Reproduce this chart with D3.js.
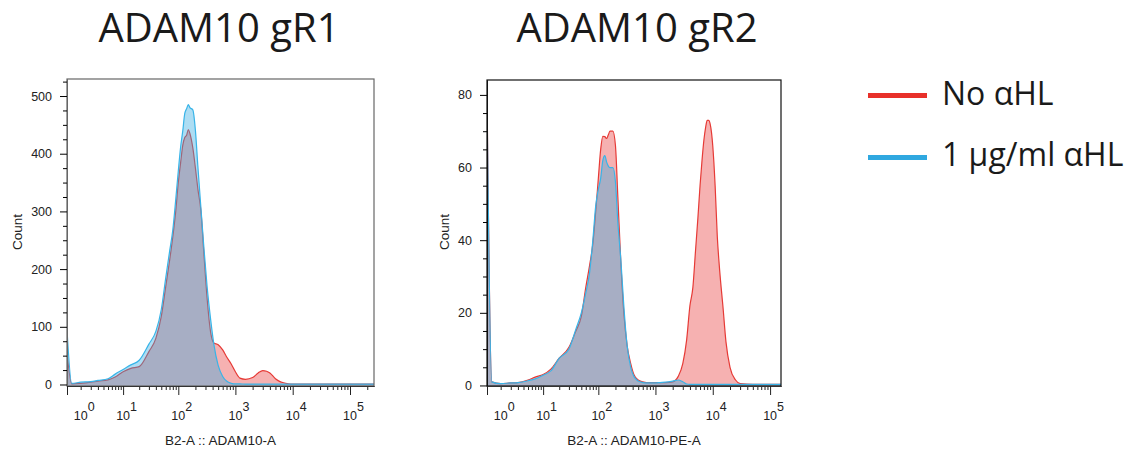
<!DOCTYPE html>
<html>
<head>
<meta charset="utf-8">
<script src="https://cdn.jsdelivr.net/npm/d3@7"></script>
<style>
  body { margin: 0; background: #fff; }
  svg { display: block; }
</style>
</head>
<body>
<div id="chart"></div>
<script>
// ---- data ----
const titles = ["ADAM10 gR1", "ADAM10 gR2"];
const axisLabels = ["B2-A :: ADAM10-A", "B2-A :: ADAM10-PE-A"];
const legendLabels = ["No αHL", "1 μg/ml αHL"];
const decades = [0, 1, 2, 3, 4, 5];

const yTicksGR1 = [0, 100, 200, 300, 400, 500];
const yTicksGR2 = [0, 20, 40, 60, 80];

// channel values (bin centres) for each histogram
const binsGR1 = [0.155, 0.4, 1, 2, 3, 5, 7, 10, 14, 20, 30, 40, 50, 60, 70, 80, 90, 100, 110, 120, 130, 140, 150, 160,
  180, 200, 220, 250, 280, 320, 370, 420, 500, 600, 700, 850, 1000, 1200, 1500, 2000, 2500, 3000, 3500, 4000,
  5000, 6000, 7000, 8500, 10000, 20000, 50000, 100000, 262144];
const gr1NoAHL = [55, 1, 2, 4, 6, 8, 13, 22, 28, 31, 57, 80, 118, 170, 214, 256, 300, 350, 385, 415, 428, 432, 442, 435,
  410, 375, 340, 300, 230, 150, 90, 72, 69, 60, 48, 35, 22, 11, 9, 12, 20, 24, 23, 20,
  10, 5, 3, 1, 0.5, 0.5, 0.5, 0.5, 0.5];
const gr1OneAHL = [95, 2, 4, 5, 7, 10, 18, 26, 34, 42, 70, 92, 130, 185, 230, 268, 320, 370, 412, 440, 470, 478, 485, 480,
  476, 440, 380, 305, 240, 170, 112, 70, 33, 14, 6, 2, 1, 1, 0.8, 0.8, 0.8, 0.8, 0.8, 0.8,
  0.8, 0.8, 0.8, 0.8, 0.8, 0.8, 0.8, 0.8, 0.8];

const binsGR2 = [0.155, 0.4, 1, 2, 3, 5, 7, 10, 14, 20, 30, 40, 50, 60, 70, 80, 90, 100, 110, 120, 130, 140, 150, 160,
  180, 200, 220, 250, 280, 320, 370, 420, 500, 600, 700, 850, 1000, 1200, 1500, 2000, 2500, 3000, 3500, 4000,
  4500, 5000, 5500, 6000, 6500, 7000, 7500, 8000, 8500, 9000, 10000, 11000, 12000, 13000, 14000, 15000, 17000,
  20000, 25000, 30000, 50000, 100000, 155000];
const gr2NoAHL = [81, 1, 0.5, 0.7, 0.8, 1.5, 2.3, 3, 4.5, 7.5, 10.5, 15, 19, 27, 33, 39, 48, 57, 65, 68.6, 68.5, 68, 69, 70,
  70, 66, 52, 33, 20, 11, 6, 3, 1.5, 1, 0.8, 0.8, 0.8, 0.8, 0.8, 1, 2.5, 6, 12.5, 22,
  27, 37, 46, 55, 62, 67.5, 71, 73, 73, 72, 66, 55, 41, 33, 27, 22, 12,
  5, 1.5, 0.5, 0.3, 0.3, 0.3];
const gr2OneAHL = [80, 1, 0.5, 0.7, 0.8, 1.3, 1.8, 2.8, 4, 7.5, 10, 15.5, 20, 25.5, 31, 40, 49.5, 54, 57, 62, 63.3, 61.5, 60.4, 60,
  60, 56, 45, 34, 22, 11, 5, 2.5, 1.2, 0.8, 0.7, 0.7, 0.7, 0.8, 0.9, 1.2, 1.5, 1, 0.4, 0.3,
  0.3, 0.3, 0.3, 0.3, 0.3, 0.3, 0.3, 0.3, 0.3, 0.3, 0.3, 0.3, 0.3, 0.3, 0.3, 0.3, 0.3,
  0.3, 0.3, 0.3, 0.3, 0.3, 0.3];

// ---- layout ----
const W = 1136, H = 454;
const redStroke = "#e63a36", redFill = "rgba(232,60,60,0.4)";
const blueStroke = "#38b4e8", blueFill = "rgba(50,170,225,0.4)";

const panels = [
  { title: titles[0], xlabel: axisLabels[0], left: 67, right: 374, top: 79, bottom: 386,
    xDomain: [0.155, 262144], yDomain: [-2.6, 529.5], yTicks: yTicksGR1, yMinorStep: 25,
    bins: binsGR1, red: gr1NoAHL, blue: gr1OneAHL, frame: "#666", titleX: 219, countX: 17 },
  { title: titles[1], xlabel: axisLabels[1], left: 487, right: 781, top: 80, bottom: 386,
    xDomain: [0.155, 155000], yDomain: [-0.15, 84.1], yTicks: yTicksGR2, yMinorStep: 5,
    bins: binsGR2, red: gr2NoAHL, blue: gr2OneAHL, frame: "#111", titleX: 637, countX: 444 }
];

const svg = d3.select("#chart").append("svg").attr("width", W).attr("height", H);

panels.forEach(function (p) {
  var x = d3.scaleSymlog().constant(1).domain(p.xDomain).range([p.left, p.right]);
  var y = d3.scaleLinear().domain(p.yDomain).range([p.bottom, p.top]);
  var g = svg.append("g");

  // title
  svg.append("text").attr("x", p.titleX).attr("y", 42).attr("text-anchor", "middle")
    .style("font-family", "Open Sans").style("font-size", "40px").attr("fill", "#1a1a1a")
    .text(p.title);

  var area = d3.area().x(d => x(d[0])).y0(y(p.yDomain[0])).y1(d => y(d[1])).curve(d3.curveMonotoneX);
  var line = d3.line().x(d => x(d[0])).y(d => y(d[1])).curve(d3.curveMonotoneX);

  var clipId = "clip" + p.left;
  svg.append("clipPath").attr("id", clipId).append("rect")
    .attr("x", p.left).attr("y", p.top).attr("width", p.right - p.left).attr("height", p.bottom - p.top);
  var plot = g.append("g").attr("clip-path", "url(#" + clipId + ")");

  [[p.red, redFill, redStroke], [p.blue, blueFill, blueStroke]].forEach(function (s) {
    var pts = p.bins.map((b, i) => [b, s[0][i]]);
    plot.append("path").datum(pts).attr("d", area).attr("fill", s[1]);
    plot.append("path").datum(pts).attr("d", line).attr("fill", "none")
      .attr("stroke", s[2]).attr("stroke-width", 1.2);
  });

  // frame
  g.append("rect").attr("x", p.left).attr("y", p.top)
    .attr("width", p.right - p.left).attr("height", p.bottom - p.top)
    .attr("fill", "none").attr("stroke", p.frame).attr("stroke-width", 1.2);

  // y axis
  var yMinor = d3.range(0, p.yDomain[1], p.yMinorStep).filter(v => p.yTicks.indexOf(v) < 0);
  g.append("g").attr("transform", "translate(" + p.left + ",0)")
    .call(d3.axisLeft(y).tickValues(yMinor).tickSize(4).tickSizeOuter(0).tickFormat(""));
  var ya = g.append("g").attr("transform", "translate(" + p.left + ",0)")
    .call(d3.axisLeft(y).tickValues(p.yTicks).tickSize(7).tickSizeOuter(0).tickPadding(8));
  ya.selectAll("text").style("font-family", "Liberation Sans").style("font-size", "12.5px").attr("fill", "#222");
  g.selectAll(".domain").attr("stroke", p.frame);

  svg.append("text").attr("transform", "translate(" + (p.countX + 5) + "," + 232 + ") rotate(-90)")
    .attr("text-anchor", "middle").style("font-family", "Liberation Sans").style("font-size", "13.5px")
    .attr("fill", "#222").text("Count");

  // x axis (log decades with minor ticks)
  var xMinor = [];
  decades.forEach(function (k) {
    for (var m = 1; m < 10; m++) {
      var v = m * Math.pow(10, k);
      if ((m > 1 || k == 0) && v < p.xDomain[1]) xMinor.push(v);
    }
  });
  var xMajor = decades.filter(k => k > 0).map(k => Math.pow(10, k));
  var xa = g.append("g").attr("transform", "translate(0," + p.bottom + ")");
  xa.call(d3.axisBottom(x).tickValues(xMinor).tickSize(4).tickSizeOuter(0).tickFormat(""));
  xa.append("g").call(d3.axisBottom(x).tickValues(xMajor.concat([p.xDomain[0]])).tickSize(9).tickSizeOuter(0).tickFormat(""));
  xa.selectAll(".domain").attr("stroke", "#333");
  xa.selectAll("line").attr("stroke", "#222");

  decades.forEach(function (k) {
    var px = x(Math.pow(10, k));
    svg.append("text").attr("x", px).attr("y", 420).attr("text-anchor", "middle")
      .style("font-family", "Liberation Sans").style("font-size", "12.5px").attr("fill", "#222").text("10");
    svg.append("text").attr("x", px + 7).attr("y", 410.5)
      .style("font-family", "Liberation Sans").style("font-size", "12.5px").attr("fill", "#222").text(k);
  });

  svg.append("text").attr("x", (p.left + p.right) / 2).attr("y", 445)
    .attr("text-anchor", "middle").style("font-family", "Liberation Sans").style("font-size", "13.5px")
    .attr("fill", "#222").text(p.xlabel);
});

// legend
const legend = svg.append("g");
[[legendLabels[0], "#e8302a", 95.5, 105], [legendLabels[1], "#2fa8e0", 157.5, 166]].forEach(function (l) {
  legend.append("line").attr("x1", 868).attr("x2", 927).attr("y1", l[2]).attr("y2", l[2])
    .attr("stroke", l[1]).attr("stroke-width", 5);
  legend.append("text").attr("x", 942).attr("y", l[3])
    .style("font-family", "Open Sans").style("font-size", "32px").attr("fill", "#1a1a1a").text(l[0]);
});
</script>
</body>
</html>
